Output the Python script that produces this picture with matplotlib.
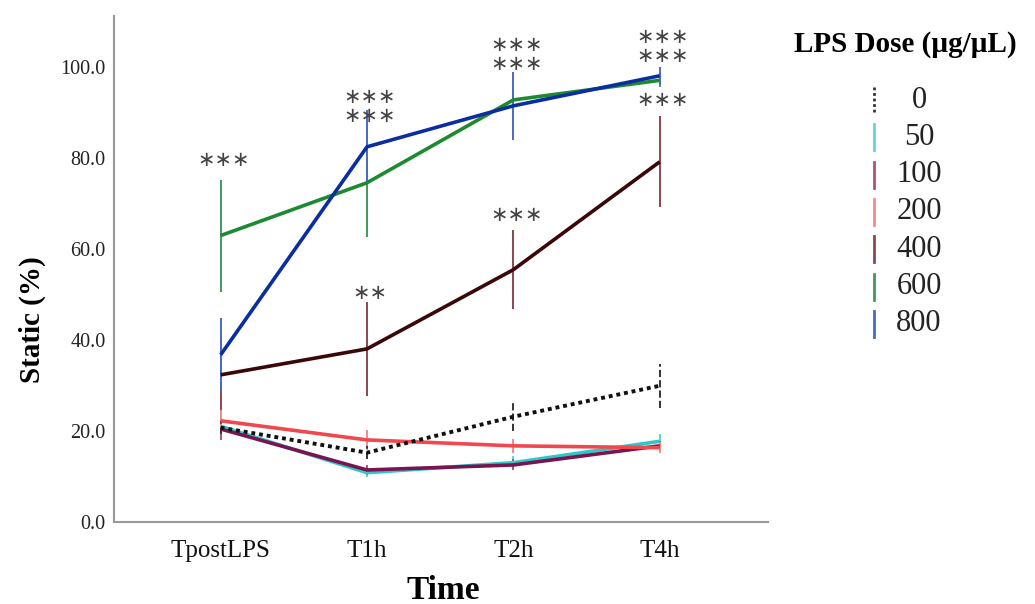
import numpy as np
import matplotlib.pyplot as plt
from matplotlib.lines import Line2D

times = ["TpostLPS", "T1h", "T2h", "T4h"]
doses = ["0", "50", "100", "200", "400", "600", "800"]

# mean static (%) per dose, one value per time point
mean_0 = [20.7, 15.2, 23.1, 29.9]
mean_50 = [21.0, 10.8, 13.0, 17.7]
mean_100 = [20.4, 11.4, 12.5, 16.7]
mean_200 = [22.2, 18.0, 16.7, 16.3]
mean_400 = [32.3, 38.0, 55.4, 79.1]
mean_600 = [62.9, 74.5, 92.7, 97.0]
mean_800 = [36.7, 82.4, 91.4, 98.0]

# half-length of the error bars
err_0 = [1.5, 1.5, 3.2, 4.8]
err_50 = [1.5, 1.0, 1.5, 1.5]
err_100 = [2.5, 1.0, 1.2, 1.0]
err_200 = [2.5, 2.2, 1.5, 1.2]
err_400 = [7.8, 10.3, 8.7, 10.0]
err_600 = [12.3, 12.0, 2.0, 1.5]
err_800 = [8.0, 8.0, 7.5, 2.0]

# significance marks: (time index, y value, text)
sig_x = [0, 1, 1, 2, 2, 3, 3]
sig_y = [79.6, 91.2, 50.3, 102.6, 67.5, 104.4, 92.7]
sig_txt = ["***", "***\n***", "**", "***\n***", "***", "***\n***", "***"]

means = [mean_0, mean_50, mean_100, mean_200, mean_400, mean_600, mean_800]
errs = [err_0, err_50, err_100, err_200, err_400, err_600, err_800]
line_cols = ["#111111", "#2ec8c8", "#7a1450", "#f0484e", "#3a0808", "#1e8a30", "#0a2ea0"]
bar_cols = ["#333333", "#62d6d6", "#b0507a", "#f58a8a", "#8a4850", "#3e9a5c", "#4a6ac4"]
styles = [(0, (1, 1)), "-", "-", "-", "-", "-", "-"]
draw_order = [1, 2, 3, 0, 4, 5, 6]

serif = "Liberation Serif"

fig = plt.figure(figsize=(10.35, 6.04), dpi=100)
ax = fig.add_axes([0.110, 0.136, 0.632, 0.838])

x = np.arange(len(times))
for i in draw_order:
    m = np.array(means[i])
    e = np.array(errs[i])
    ax.vlines(x, m - e, m + e, colors=bar_cols[i], linewidth=1.4,
              linestyles="--" if i == 0 else "-", zorder=2)
for i in draw_order:
    ax.plot(x, means[i], color=line_cols[i], linewidth=2.6 if i else 2.8,
            linestyle=styles[i], solid_capstyle="butt", zorder=3)

for xi, yi, t in zip(sig_x, sig_y, sig_txt):
    ax.text(xi + 0.02, yi, t.replace("*", "\u2217"), ha="center", va="center",
            fontsize=15, color="#444444", family="DejaVu Sans", linespacing=0.95)

ax.set_xlim(-0.73, 3.74)
ax.set_ylim(0, 111.2)
ax.set_xticks(x)
ax.set_xticklabels(times, fontsize=18, family=serif, color="#111111")
ax.set_yticks(np.arange(0, 101, 20))
ax.set_yticklabels([f"{v:.1f}" for v in np.arange(0, 101, 20)],
                   fontsize=14.5, family=serif, color="#222222")
ax.tick_params(length=0, pad=6)
ax.tick_params(axis="x", pad=13)
for s in ["top", "right"]:
    ax.spines[s].set_visible(False)
for s in ["left", "bottom"]:
    ax.spines[s].set_color("#999999")
    ax.spines[s].set_linewidth(1.5)

fig.text(0.031, 1 - 320 / 604, "Static (%)", rotation=90, ha="center", va="center",
         fontsize=21, fontweight="bold", family=serif)
fig.text(0.428, 0.023, "Time", ha="center", va="center",
         fontsize=24, fontweight="bold", family=serif)

# legend drawn by hand: vertical line swatches with centred labels
W, H = 1035, 604
fig.text(905 / W, 1 - 45 / H, "LPS Dose (\u00b5g/\u00b5L)", ha="center", va="center",
         fontsize=21, fontweight="bold", family=serif)
for k, lab in enumerate(doses):
    yc = 100 + 37.3 * k
    fig.add_artist(Line2D([874 / W, 874 / W], [1 - (yc - 13) / H, 1 - (yc + 13) / H],
                          color=bar_cols[k], linewidth=2.0,
                          linestyle=(0, (1, 1)) if k == 0 else "-"))
    fig.text(919 / W, 1 - yc / H, lab, ha="center", va="center",
             fontsize=22, family=serif, color="#222222")

fig.savefig("out.png", dpi=100)
